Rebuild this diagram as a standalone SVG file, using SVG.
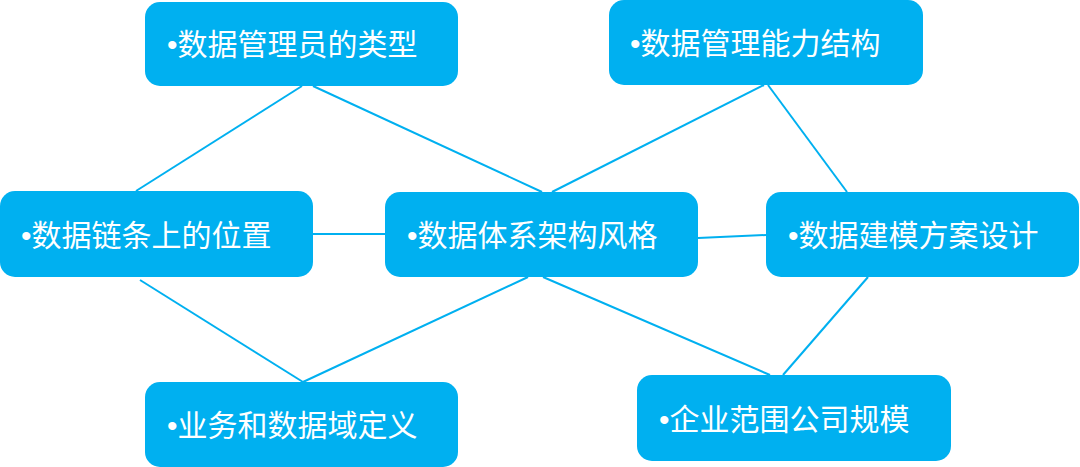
<svg xmlns="http://www.w3.org/2000/svg" width="1080" height="467" viewBox="0 0 1080 467">
<style>
.box{fill:#00B0F0;}
.lbl{fill:#FFFFFF;font-family:"Liberation Sans","Noto Sans CJK SC",sans-serif;font-size:30px;}
.ln{stroke:#00B0F0;stroke-width:2;fill:none;}
</style>
<rect width="1080" height="467" fill="#FFFFFF"/>
<g id="connectors">
<line class="ln" x1="302" y1="86" x2="136" y2="191"/>
<line class="ln" x1="313" y1="86" x2="542" y2="192"/>
<line class="ln" x1="764" y1="85" x2="552" y2="192"/>
<line class="ln" x1="768" y1="85" x2="847" y2="192"/>
<line class="ln" x1="313" y1="234" x2="385" y2="234"/>
<line class="ln" x1="698" y1="238" x2="766" y2="235"/>
<line class="ln" x1="140" y1="280" x2="303" y2="382"/>
<line class="ln" x1="528" y1="277" x2="303" y2="382"/>
<line class="ln" x1="543" y1="277" x2="770" y2="375"/>
<line class="ln" x1="868" y1="277" x2="783" y2="375"/>
</g>
<g id="n1">
<rect class="box" x="145" y="2" width="313" height="84" rx="15"/>
<text class="lbl" x="167" y="55">•数据管理员的类型</text>
</g>
<g id="n2">
<rect class="box" x="609" y="0" width="314" height="85" rx="15"/>
<text class="lbl" x="630" y="54">•数据管理能力结构</text>
</g>
<g id="n3">
<rect class="box" x="0" y="191" width="313" height="86" rx="15"/>
<text class="lbl" x="21" y="246">•数据链条上的位置</text>
</g>
<g id="n4">
<rect class="box" x="385" y="192" width="313" height="85" rx="15"/>
<text class="lbl" x="407" y="246">•数据体系架构风格</text>
</g>
<g id="n5">
<rect class="box" x="766" y="192" width="313" height="85" rx="15"/>
<text class="lbl" x="788" y="246">•数据建模方案设计</text>
</g>
<g id="n6">
<rect class="box" x="145" y="382" width="313" height="85" rx="15"/>
<text class="lbl" x="167" y="436">•业务和数据域定义</text>
</g>
<g id="n7">
<rect class="box" x="637" y="375" width="314" height="86" rx="15"/>
<text class="lbl" x="659" y="430">•企业范围公司规模</text>
</g>
</svg>
